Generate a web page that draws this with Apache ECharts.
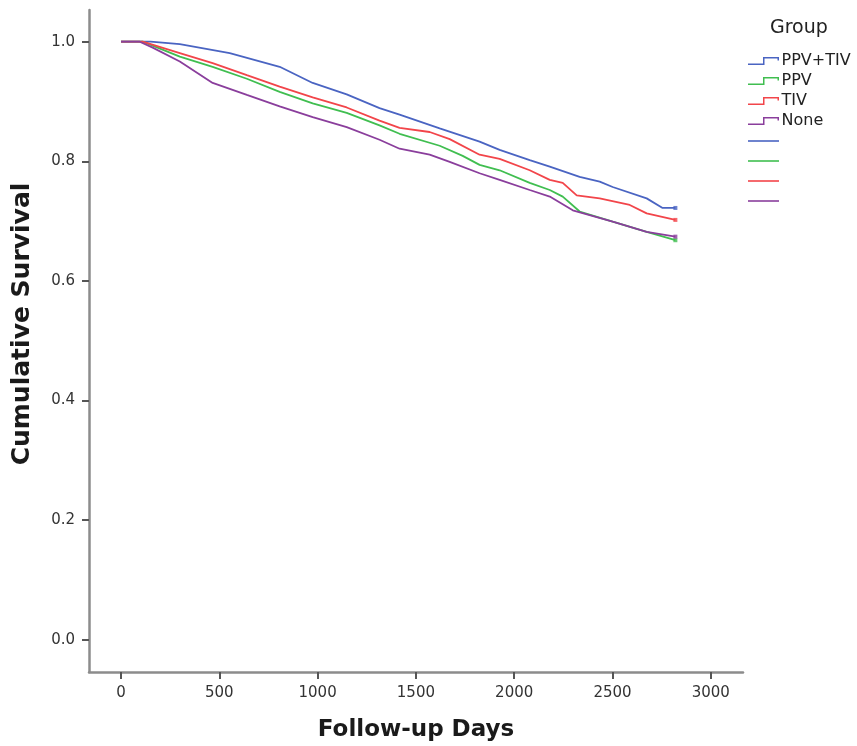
<!DOCTYPE html>
<html>
<head>
<meta charset="utf-8">
<script src="https://cdn.jsdelivr.net/npm/echarts@6/dist/echarts.min.js"></script>
<style>
  html, body { margin: 0; padding: 0; background: #fff; }
  #chart { width: 857px; height: 746px; }
</style>
</head>
<body>
<div id="chart"></div>
<script>
// Kaplan-Meier survival by vaccination group (days of follow-up vs cumulative survival)
const groupNames = ['PPV+TIV', 'PPV', 'TIV', 'None'];
const groupColors = ['#4a64c2', '#40be50', '#f2454a', '#8a3e9c'];

const ppvTivDays = [0, 150, 299, 553, 807, 975, 1148, 1315, 1417, 1621, 1824, 1926, 2079, 2181, 2333, 2435, 2501, 2674, 2755, 2820];
const ppvTivSurv = [1.0, 1.0, 0.996, 0.981, 0.958, 0.931, 0.912, 0.889, 0.878, 0.855, 0.833, 0.819, 0.802, 0.791, 0.774, 0.766, 0.757, 0.738, 0.722, 0.722];

const ppvDays = [0, 110, 299, 466, 640, 807, 975, 1148, 1315, 1417, 1621, 1738, 1824, 1926, 2079, 2181, 2247, 2333, 2501, 2674, 2820];
const ppvSurv = [1.0, 1.0, 0.975, 0.958, 0.938, 0.916, 0.897, 0.881, 0.860, 0.846, 0.826, 0.809, 0.794, 0.785, 0.764, 0.752, 0.741, 0.716, 0.699, 0.682, 0.668];

const tivDays = [0, 110, 299, 466, 640, 807, 975, 1148, 1315, 1417, 1570, 1672, 1824, 1926, 2079, 2181, 2247, 2318, 2435, 2588, 2674, 2820];
const tivSurv = [1.0, 1.0, 0.981, 0.964, 0.944, 0.925, 0.907, 0.890, 0.868, 0.856, 0.849, 0.837, 0.811, 0.804, 0.785, 0.769, 0.764, 0.743, 0.738, 0.727, 0.713, 0.702];

const noneDays = [0, 95, 161, 299, 466, 640, 807, 975, 1148, 1315, 1417, 1570, 1672, 1824, 1926, 2079, 2181, 2298, 2501, 2674, 2820];
const noneSurv = [1.0, 1.0, 0.990, 0.967, 0.931, 0.911, 0.892, 0.874, 0.857, 0.836, 0.821, 0.811, 0.799, 0.780, 0.769, 0.752, 0.741, 0.718, 0.699, 0.682, 0.674];

const xTicks = [0, 500, 1000, 1500, 2000, 2500, 3000];
const yTicks = [0, 0.2, 0.4, 0.6, 0.8, 1.0];

const curves = [
  [ppvTivDays, ppvTivSurv],
  [ppvDays, ppvSurv],
  [tivDays, tivSurv],
  [noneDays, noneSurv]
];

const FONT = 'DejaVu Sans';
const CENSOR_SUFFIX = ' censored';

// Legend glyphs: a small step outline for the survival curves and a flat bar for censor marks.
// Tiny corner specks keep both glyph boxes at the same 32x8 extent.
const stepIcon = 'path://M0,0 L0.05,0 L0,0.05 Z M0,6.5 L15,6.5 L15,0 L31,0 L31,3.5 L29.5,3.5 L29.5,1.5 L16.5,1.5 L16.5,8 L0,8 Z';
const barIcon = 'path://M0,0 L0.05,0 L0,0.05 Z M0,8 L0.05,8 L0,7.95 Z M0,3.1 L31,3.1 L31,4.9 L0,4.9 Z';

const zip = (xs, ys) => xs.map((x, i) => [x, ys[i]]);

const lineSeries = groupNames.map((name, i) => ({
  name,
  type: 'line',
  data: zip(curves[i][0], curves[i][1]),
  showSymbol: false,
  color: groupColors[i],
  lineStyle: { width: 1.8, color: groupColors[i] },
  z: 3
}));

const censorSeries = groupNames.map((name, i) => {
  const xs = curves[i][0], ys = curves[i][1];
  return {
    name: name + CENSOR_SUFFIX,
    type: 'scatter',
    data: [[xs[xs.length - 1], ys[ys.length - 1]]],
    symbol: 'rect',
    symbolSize: [4, 4],
    color: groupColors[i],
    itemStyle: { color: groupColors[i] },
    z: 4
  };
});

const legendData = groupNames.map(n => ({ name: n, icon: stepIcon }))
  .concat(groupNames.map(n => ({ name: n + CENSOR_SUFFIX, icon: barIcon })));

const chart = echarts.init(document.getElementById('chart'), null, { renderer: 'canvas' });

chart.setOption({
  animation: false,
  backgroundColor: '#ffffff',
  title: {
    text: 'Group',
    left: 770,
    top: 19,
    padding: 0,
    textStyle: { fontFamily: FONT, fontSize: 19, fontWeight: 'normal', color: '#222' }
  },
  legend: {
    orient: 'vertical',
    left: 748,
    top: 53,
    padding: 0,
    itemWidth: 32,
    itemHeight: 8,
    itemGap: 4,
    selectedMode: false,
    itemStyle: { borderWidth: 0 },
    textStyle: { fontFamily: FONT, fontSize: 16, lineHeight: 16, color: '#222', padding: [0, 0, 0, -3] },
    formatter: name => name.endsWith(CENSOR_SUFFIX) ? ' ' : name,
    data: legendData
  },
  grid: {
    left: 89,
    right: 114,
    top: 10,
    bottom: 74,
    containLabel: false,
    outerBoundsMode: 'none'
  },
  xAxis: {
    type: 'value',
    min: -163,
    max: 3164,
    name: 'Follow-up Days',
    nameLocation: 'middle',
    nameGap: 47,
    nameTextStyle: { fontFamily: FONT, fontSize: 23, fontWeight: 'bold', color: '#1a1a1a' },
    axisLine: { show: true, onZero: false, lineStyle: { color: '#8c8c8c', width: 2.5 } },
    axisTick: { show: true, customValues: xTicks, length: 7, lineStyle: { color: '#555', width: 2 } },
    axisLabel: {
      customValues: xTicks,
      margin: 14,
      fontFamily: FONT,
      fontSize: 15,
      color: '#333',
      formatter: v => String(v)
    },
    splitLine: { show: false }
  },
  yAxis: {
    type: 'value',
    min: -0.054,
    max: 1.053,
    name: 'Cumulative Survival',
    nameLocation: 'middle',
    nameGap: 54,
    nameTextStyle: {
      fontFamily: FONT, fontSize: 25, fontWeight: 'bold', color: '#1a1a1a',
      padding: [0, 0, 0, 34]
    },
    axisLine: { show: true, onZero: false, lineStyle: { color: '#8c8c8c', width: 2.5 } },
    axisTick: { show: true, customValues: yTicks, length: 7, lineStyle: { color: '#555', width: 2 } },
    axisLabel: {
      customValues: yTicks,
      margin: 14,
      fontFamily: FONT,
      fontSize: 15,
      color: '#333',
      formatter: v => v.toFixed(1)
    },
    splitLine: { show: false }
  },
  series: lineSeries.concat(censorSeries)
});
</script>
</body>
</html>
